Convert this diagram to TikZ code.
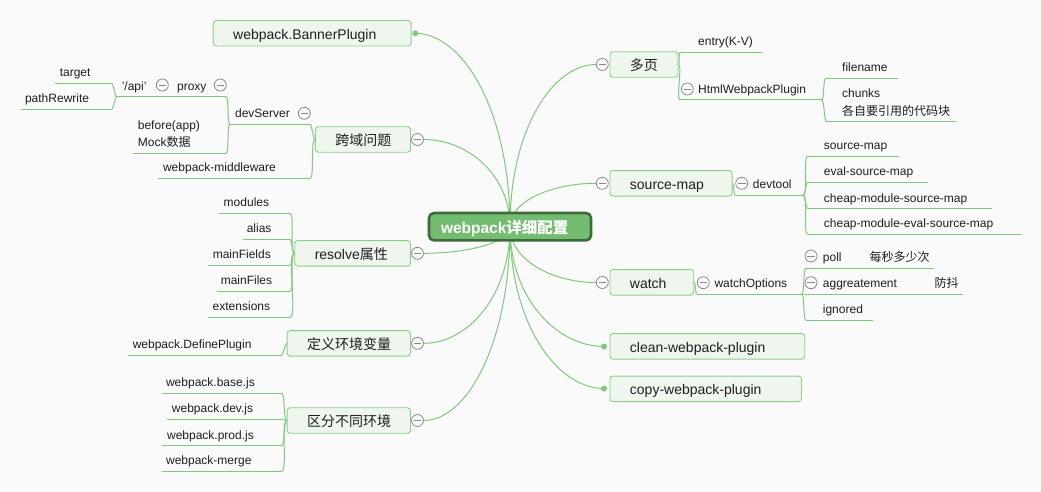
\documentclass[tikz,border=0pt]{standalone}
\usepackage{fontspec}
\setmainfont{Liberation Sans}
\newfontfamily\cjk{Noto Sans CJK SC}
\definecolor{bgc}{HTML}{FAFAFA}
\definecolor{tfill}{HTML}{EFF6EE}
\definecolor{tborder}{HTML}{8CD088}
\definecolor{brc}{HTML}{80C87C}
\definecolor{rootfill}{HTML}{74BD70}
\definecolor{rootborder}{HTML}{3E6B3C}
\definecolor{minusc}{HTML}{8A8A8A}
\definecolor{txt}{HTML}{1E1E1E}
\pgfdeclarelayer{bglayer}
\pgfdeclarelayer{edges}
\pgfsetlayers{bglayer,edges,main}
\tikzset{
  topic/.style={draw=tborder, fill=tfill, line width=0.9pt, rounded corners=3pt,
    minimum height=25.5pt, inner xsep=20pt, inner ysep=0pt, align=left,
    text width=#1pt, anchor=west, font=\fontsize{14}{17}\selectfont, text=txt,
    text height=12.5pt, text depth=0.5pt},
  rootn/.style={draw=rootborder, fill=rootfill, line width=2.6pt, rounded corners=5pt,
    minimum height=27.4pt, inner xsep=12pt, inner ysep=0pt, text width=138pt, align=left,
    font=\bfseries\fontsize{15.5}{18}\selectfont, text=white, text height=13.5pt, text depth=0.5pt},
  sub/.style={inner sep=0pt, font=\fontsize{12}{14}\selectfont, text=txt},
  uline/.style={draw=brc, line width=1pt},
  conn/.style={draw=brc, line width=1pt},
  rb/.style={out=0, in=180, looseness=0.3},
  lb/.style={out=180, in=0, looseness=0.3},
  minus/.style={circle, draw=minusc, fill=bgc, line width=0.8pt, minimum size=12pt, inner sep=0pt,
    path picture={\draw[minusc, line width=0.9pt] ([xshift=-3.8pt]path picture bounding box.center) -- ([xshift=3.8pt]path picture bounding box.center);}},
  dot/.style={circle, fill=brc, minimum size=6pt, inner sep=0pt},
}
\begin{document}
\begin{tikzpicture}[x=1pt,y=-1pt]
\begin{pgfonlayer}{bglayer}
\fill[bgc] (0,0) rectangle (1041,492);
\end{pgfonlayer}
\useasboundingbox (0,0) rectangle (1041,492);

% ---------- root ----------
\node[rootn] (root) at (510,226.7) {webpack{\cjk 详细配置}};

% ---------- main topics ----------
\node[topic=158] (banner) at (212.7,33.3) {webpack.BannerPlugin};
\node[topic=55] (kuayu) at (315,139.5) {{\cjk 跨域问题}};
\node[topic=75.7] (resolve) at (294.3,253.3) {resolve{\cjk 属性}};
\node[topic=83.3] (define) at (286.7,343.3) {{\cjk 定义环境变量}};
\node[topic=83.3] (env) at (286.7,420.5) {{\cjk 区分不同环境}};
\node[topic=28] (duoye) at (609.5,64.5) {{\cjk 多页}};
\node[topic=82.2] (srcmap) at (609.5,183.3) {source-map};
\node[topic=43.8] (watch) at (609.5,282.3) {watch};
\node[topic=154.8] (clean) at (609.5,346.3) {clean-webpack-plugin};
\node[topic=151.5] (copy) at (609.5,388.8) {copy-webpack-plugin};

% ---------- collapse markers and dots ----------
\node[dot] (d-banner) at (415.3,33.3) {};
\node[minus] (m-kuayu) at (417.5,139.5) {};
\node[minus] (m-resolve) at (417.5,253.3) {};
\node[minus] (m-define) at (417.5,343.3) {};
\node[minus] (m-env) at (417.5,420.5) {};
\node[minus] (m-duoye) at (602.3,64.5) {};
\node[minus] (m-srcmap) at (602.3,183.3) {};
\node[minus] (m-watch) at (602.3,282.5) {};
\node[dot] (d-clean) at (604,346.5) {};
\node[dot] (d-copy) at (604,388.5) {};

% ---------- root branches ----------
\begin{pgfonlayer}{edges}
\draw[conn] (root.center) .. controls +(0,-116) and +(47.4,0) .. (d-banner.center);
\draw[conn] (root.center) .. controls +(0,-52.3) and +(43.3,0) .. (m-kuayu.east);
\draw[conn] (root.center) .. controls +(0,16) and +(43.3,0) .. (m-resolve.east);
\draw[conn] (root.center) .. controls +(0,70) and +(43.3,0) .. (m-define.east);
\draw[conn] (root.center) .. controls +(0,116.3) and +(43.3,0) .. (m-env.east);
\draw[conn] (root.center) .. controls +(0,-97.3) and +(-43.2,0) .. (m-duoye.west);
\draw[conn] (root.center) .. controls +(0,-26) and +(-43.2,0) .. (m-srcmap.west);
\draw[conn] (root.center) .. controls +(0,33.5) and +(-43.2,0) .. (m-watch.west);
\draw[conn] (root.center) .. controls +(0,71.9) and +(-47,0) .. (d-clean.center);
\draw[conn] (root.center) .. controls +(0,97.1) and +(-47,0) .. (d-copy.center);
\end{pgfonlayer}

% ================= right side sub-topics =================
% 多页
\node[sub, anchor=base west] (entry) at (698,45.8) {entry(K-V)};
\draw[uline] (680,52.3) coordinate (entry-l) -- (761.7,52.3) coordinate (entry-r);
\node[sub, anchor=base west] (html) at (698,93.5) {HtmlWebpackPlugin};
\draw[uline] (680,100) coordinate (html-l) -- (821.7,100) coordinate (html-r);
\node[minus] (m-html) at (687.3,89) {};
\draw[conn] (duoye.east) to[rb] (entry-l);
\draw[conn] (duoye.east) to[rb] (html-l);

\node[sub, anchor=base west] (filename) at (842,71.8) {filename};
\draw[uline] (825.7,78.3) coordinate (filename-l) -- (898,78.3) coordinate (filename-r);
\node[sub, anchor=base west, align=left, text width=118pt, font=\fontsize{12}{18.2}\selectfont] (chunks) at (842,97.3) {chunks\\{\cjk 各自要引用的代码块}};
\draw[uline] (826.7,122) coordinate (chunks-l) -- (955.7,122) coordinate (chunks-r);
\draw[conn] (html-r) to[rb] (filename-l);
\draw[conn] (html-r) to[rb] (chunks-l);

% source-map
\node[sub, anchor=base west] (devtool) at (752.7,188.8) {devtool};
\draw[uline] (735,195.3) coordinate (devtool-l) -- (803.3,195.3) coordinate (devtool-r);
\node[minus] (m-devtool) at (741.7,183.3) {};
\draw[conn] (srcmap.east) to[rb] (devtool-l);

\node[sub, anchor=base west] (sm1) at (823.7,149.5) {source-map};
\draw[uline] (807.7,156) coordinate (sm1-l) -- (899.3,156) coordinate (sm1-r);
\node[sub, anchor=base west] (sm2) at (823.7,175.8) {eval-source-map};
\draw[uline] (807.7,182.3) coordinate (sm2-l) -- (928.3,182.3) coordinate (sm2-r);
\node[sub, anchor=base west] (sm3) at (823.7,202.2) {cheap-module-source-map};
\draw[uline] (807.7,208.7) coordinate (sm3-l) -- (991.7,208.7) coordinate (sm3-r);
\node[sub, anchor=base west] (sm4) at (823.7,227.8) {cheap-module-eval-source-map};
\draw[uline] (807.7,234.3) coordinate (sm4-l) -- (1020.7,234.3) coordinate (sm4-r);
\foreach \n in {sm1,sm2,sm3,sm4} \draw[conn] (devtool-r) to[rb] (\n-l);

% watch
\node[sub, anchor=base west] (wo) at (714.3,287.5) {watchOptions};
\draw[uline] (696.7,294) coordinate (wo-l) -- (801.7,294) coordinate (wo-r);
\node[minus] (m-wo) at (703.3,282.7) {};
\draw[conn] (watch.east) to[rb] (wo-l);

\node[sub, anchor=base west] (poll) at (822.7,261.8) {poll};
\draw[uline] (806,268.3) coordinate (poll-l) -- (856,268.3) coordinate (poll-r);
\node[minus] (m-poll) at (811,256) {};
\node[sub, anchor=base west] (mei) at (869.3,261.8) {{\cjk 每秒多少次}};
\draw[uline] (860,268.3) coordinate (mei-l) -- (934,268.3) coordinate (mei-r);
\draw[conn] (poll-r) -- (mei-l);

\node[sub, anchor=base west] (agg) at (822.7,287.5) {aggreatement};
\draw[uline] (806,294) coordinate (agg-l) -- (905,294) coordinate (agg-r);
\node[minus] (m-agg) at (811,282.7) {};
\node[sub, anchor=base west] (fd) at (934.3,287.5) {{\cjk 防抖}};
\draw[uline] (909,294) coordinate (fd-l) -- (963.3,294) coordinate (fd-r);
\draw[conn] (agg-r) -- (fd-l);

\node[sub, anchor=base west] (ign) at (822.7,313.5) {ignored};
\draw[uline] (806,320) coordinate (ign-l) -- (872.7,320) coordinate (ign-r);
\foreach \n in {poll,agg,ign} \draw[conn] (wo-r) to[rb] (\n-l);

% ================= left side sub-topics =================
% 跨域问题
\node[sub, anchor=base east] (devserver) at (290,117.8) {devServer};
\draw[uline] (230,124.3) coordinate (devserver-l) -- (310,124.3) coordinate (devserver-r);
\node[minus] (m-devserver) at (304.3,113.3) {};
\node[sub, anchor=base east] (mw) at (276,171.8) {webpack-middleware};
\draw[uline] (158.3,178.3) coordinate (mw-l) -- (310,178.3) coordinate (mw-r);
\draw[conn] (kuayu.west) to[lb] (devserver-r);
\draw[conn] (kuayu.west) to[lb] (mw-r);

\node[sub, anchor=base east] (proxy) at (206.7,90.2) {proxy};
\draw[uline] (172,96.7) coordinate (proxy-l) -- (226,96.7) coordinate (proxy-r);
\node[minus] (m-proxy) at (220.3,85) {};
\node[sub, anchor=base west, align=left, text width=70pt, font=\fontsize{12}{17}\selectfont] (before) at (137.7,129.8) {before(app)\\Mock{\cjk 数据}};
\draw[uline] (132.7,153.3) coordinate (before-l) -- (226,153.3) coordinate (before-r);
\draw[conn] (devserver-l) to[lb] (proxy-r);
\draw[conn] (devserver-l) to[lb] (before-r);

\node[sub, anchor=base east] (api) at (146.7,90.2) {'/api'};
\draw[uline] (116.7,96.7) coordinate (api-l) -- (168,96.7) coordinate (api-r);
\node[minus] (m-api) at (162.3,85) {};
\draw[conn] (proxy-l) -- (api-r);

\node[sub, anchor=base east] (target) at (90.7,76.8) {target};
\draw[uline] (55,83.3) coordinate (target-l) -- (111.7,83.3) coordinate (target-r);
\node[sub, anchor=base east] (rewrite) at (89.3,102.8) {pathRewrite};
\draw[uline] (20.7,109.3) coordinate (rewrite-l) -- (111.7,109.3) coordinate (rewrite-r);
\draw[conn] (api-l) to[lb] (target-r);
\draw[conn] (api-l) to[lb] (rewrite-r);

% resolve属性
\node[sub, anchor=base east] (modules) at (269.3,206.8) {modules};
\draw[uline] (219.3,213.3) coordinate (modules-l) -- (290,213.3) coordinate (modules-r);
\node[sub, anchor=base east] (alias) at (271.7,232.8) {alias};
\draw[uline] (242.7,239.3) coordinate (alias-l) -- (290,239.3) coordinate (alias-r);
\node[sub, anchor=base east] (mfields) at (271,258.8) {mainFields};
\draw[uline] (208.3,265.3) coordinate (mfields-l) -- (290,265.3) coordinate (mfields-r);
\node[sub, anchor=base east] (mfiles) at (272.3,284.8) {mainFiles};
\draw[uline] (216.7,291.3) coordinate (mfiles-l) -- (290,291.3) coordinate (mfiles-r);
\node[sub, anchor=base east] (ext) at (270.3,310.8) {extensions};
\draw[uline] (208.3,317.3) coordinate (ext-l) -- (290,317.3) coordinate (ext-r);
\foreach \n in {modules,alias,mfields,mfiles,ext} \draw[conn] (resolve.west) to[lb] (\n-r);

% 定义环境变量
\node[sub, anchor=base east] (dp) at (251.7,348.5) {webpack.DefinePlugin};
\draw[uline] (128.3,355) coordinate (dp-l) -- (281.7,355) coordinate (dp-r);
\draw[conn] (define.west) to[lb] (dp-r);

% 区分不同环境
\node[sub, anchor=base east] (wbase) at (255,386.8) {webpack.base.js};
\draw[uline] (161.7,393.3) coordinate (wbase-l) -- (281.7,393.3) coordinate (wbase-r);
\node[sub, anchor=base east] (wdev) at (253.3,412.8) {webpack.dev.js};
\draw[uline] (167.3,419.3) coordinate (wdev-l) -- (281.7,419.3) coordinate (wdev-r);
\node[sub, anchor=base east] (wprod) at (254,439.2) {webpack.prod.js};
\draw[uline] (162.3,445.7) coordinate (wprod-l) -- (281.7,445.7) coordinate (wprod-r);
\node[sub, anchor=base east] (wmerge) at (251.7,464.8) {webpack-merge};
\draw[uline] (161.7,471.3) coordinate (wmerge-l) -- (281.7,471.3) coordinate (wmerge-r);
\foreach \n in {wbase,wdev,wprod,wmerge} \draw[conn] (env.west) to[lb] (\n-r);

\end{tikzpicture}
\end{document}
